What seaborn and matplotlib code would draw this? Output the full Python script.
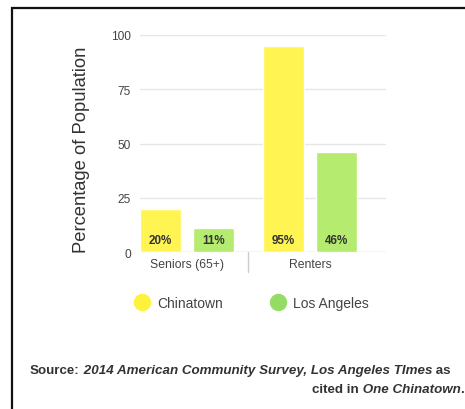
import matplotlib
matplotlib.use("Agg")
import matplotlib.pyplot as plt
import seaborn as sns
import pandas as pd
from matplotlib.lines import Line2D
from matplotlib.patches import Rectangle
from matplotlib.transforms import blended_transform_factory

categories = ["Seniors (65+)", "Renters"]
series_names = ["Chinatown", "Los Angeles"]
chinatown = [20, 95]
los_angeles = [11, 46]
value_labels = {"Chinatown": ["20%", "95%"], "Los Angeles": ["11%", "46%"]}
y_ticks = [0, 25, 50, 75, 100]

sns.set_style("white")
plt.rcParams["font.family"] = ["Liberation Sans", "DejaVu Sans"]

bar_colors = {"Chinatown": "#FFF451", "Los Angeles": "#B5EC6F"}
legend_colors = {"Chinatown": "#FFF23C", "Los Angeles": "#95DC66"}

df = pd.DataFrame({
    "category": categories * 2,
    "series": [series_names[0]] * 2 + [series_names[1]] * 2,
    "value": chinatown + los_angeles,
})

W, H = 465, 410
fig = plt.figure(figsize=(W / 100, H / 100), dpi=100)
ax = fig.add_axes([140 / W, 1 - 253 / H, 246 / W, 217 / H])

sns.barplot(data=df, x="category", y="value", hue="series", order=categories,
            hue_order=series_names, palette=bar_colors, width=0.862, gap=0.227,
            saturation=1, legend=False, ax=ax, zorder=3)

ax.set_xlim(-0.382, 1.618)
ax.set_ylim(0, 100)
ax.set_yticks(y_ticks)
ax.set_yticklabels([str(t) for t in y_ticks])
ax.grid(axis="y", color="#e6e6e6", lw=1, zorder=0)
ax.grid(axis="x", visible=False)
for s in ax.spines.values():
    s.set_visible(False)
ax.axhline(0, color="#d9d9d9", lw=1, zorder=2)

ax.tick_params(axis="y", length=0, pad=6.5, labelsize=8.6, labelcolor="#444444")
ax.tick_params(axis="x", length=0, pad=4.5, labelsize=8.8, labelcolor="#444444")

# category separator below the axis
trans = blended_transform_factory(ax.transData, ax.transAxes)
ax.add_line(Line2D([0.5, 0.5], [0, -20 / 217], transform=trans, color="#cccccc",
                   lw=1, clip_on=False))

ax.set_xlabel("")
ax.set_ylabel("Percentage of Population", fontsize=13.2, color="#333333")
ax.yaxis.set_label_coords(-0.203, 0.475)

# value labels
for container, name in zip(ax.containers, series_names):
    for rect, lab in zip(container, value_labels[name]):
        ax.text(rect.get_x() + rect.get_width() / 2, 5.5, lab, ha="center", va="center",
                fontsize=8.4, fontweight="bold", color="#333333", zorder=5)

# legend
handles = [Line2D([0], [0], marker="o", linestyle="", markersize=11.5,
                  markerfacecolor=legend_colors[n], markeredgecolor=legend_colors[n])
           for n in series_names]
fig.legend(handles, series_names, loc="center left", bbox_to_anchor=(121.5 / W, 1 - 304 / H),
           ncol=2, frameon=False, fontsize=10, labelcolor="#444444",
           handlelength=1.2, handletextpad=0.48, columnspacing=3.36, borderpad=0.4)

# frame border (left and top visible)
fig.patches.append(Rectangle((11.5 / W, -0.2), 2.0, 1.2 - 8.5 / H, transform=fig.transFigure,
                             fill=False, edgecolor="#111111", lw=1.6))

# source text with mixed styles
fig.canvas.draw()
renderer = fig.canvas.get_renderer()

def draw_pieces(pieces, x_px, y_frac):
    x = x_px / W
    for txt, style in pieces:
        t = fig.text(x, y_frac, txt, fontsize=9.6, fontweight="bold", fontstyle=style,
                     color="#333333", ha="left", va="baseline")
        bb = t.get_window_extent(renderer)
        x = bb.x1 / W

source_line1 = [("Source:", "normal"),
                (" 2014 American Community Survey, Los Angeles TImes", "italic"),
                (" as", "normal")]
source_line2 = [("cited in", "normal"), (" One Chinatown", "italic"), (".", "normal")]
draw_pieces(source_line1, 30, 1 - 374.5 / H)
draw_pieces(source_line2, 312, 1 - 393.5 / H)

fig.savefig("out.png", dpi=100)
